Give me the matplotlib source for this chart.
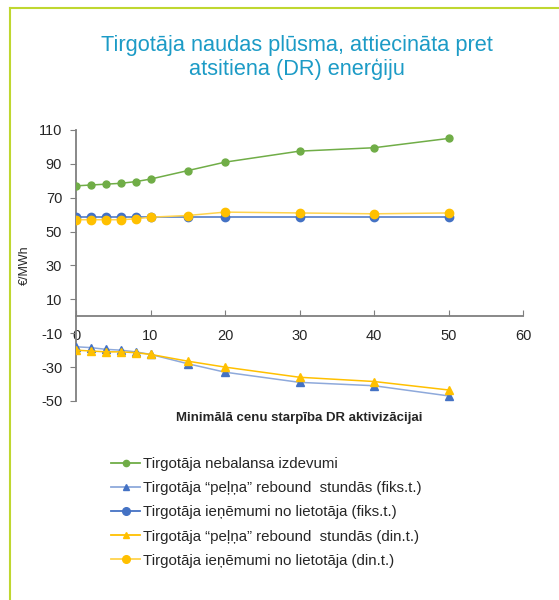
import matplotlib.pyplot as plt
from matplotlib.lines import Line2D

plt.rcParams['font.family'] = ['Liberation Sans', 'DejaVu Sans']
plt.rcParams['axes.unicode_minus'] = False

# minimal price spread for DR activation
spread = [0, 2, 4, 6, 8, 10, 15, 20, 30, 40, 50]

imbalance_cost = [77, 77.5, 78, 78.5, 79.5, 81, 86, 91, 97.5, 99.5, 105]
rebound_fix = [-18, -18.5, -19.5, -20, -21, -22.5, -28, -33, -39, -41, -47]
revenue_fix = [58.5, 58.5, 58.5, 58.5, 58.5, 58.5, 58.5, 58.5, 58.5, 58.5, 58.5]
rebound_dyn = [-20, -20.5, -21, -21, -21.5, -22.5, -26.5, -30, -36, -38.5, -43.5]
revenue_dyn = [57, 57, 57, 57, 57.5, 58.5, 59.5, 61.5, 61, 60.5, 61]

labels = [
    'Tirgotāja nebalansa izdevumi',
    'Tirgotāja “peļņa” rebound  stundās (fiks.t.)',
    'Tirgotāja ieņēmumi no lietotāja (fiks.t.)',
    'Tirgotāja “peļņa” rebound  stundās (din.t.)',
    'Tirgotāja ieņēmumi no lietotāja (din.t.)',
]
yticks = [-50, -30, -10, 10, 30, 50, 70, 90, 110]
xticks = [0, 10, 20, 30, 40, 50, 60]

green = '#70AD47'
blue = '#4472C4'
blue_light = '#8EA9DB'
yellow = '#FFC000'
yellow_light = '#FFD34D'

fig = plt.figure(figsize=(5.59, 6.0), dpi=100)
ax = fig.add_axes([0.136, 0.3317, 0.7996, 0.4517])

series = [
    (imbalance_cost, green, green, 'o', 5),
    (rebound_fix, blue_light, blue, '^', 5.5),
    (revenue_fix, blue, blue, 'o', 6),
    (rebound_dyn, yellow, yellow, '^', 5.5),
    (revenue_dyn, yellow_light, yellow, 'o', 6),
]
handles = []
for (vals, lc, mc, mk, ms), lab in zip(series, labels):
    ax.plot(spread, vals, color=lc, lw=1.1, marker=mk, ms=ms,
            mfc=mc, mec=mc, zorder=3)
    handles.append(Line2D([], [], color=lc, lw=1.3, marker=mk, ms=ms - 0.5,
                          mfc=mc, mec=mc))

ax.set_xlim(0, 60)
ax.set_ylim(-50, 110)
ax.set_xticks(xticks)
ax.set_yticks(yticks)
ax.spines['top'].set_visible(False)
ax.spines['right'].set_visible(False)
ax.spines['bottom'].set_position(('data', 0))
for s in ('left', 'bottom'):
    ax.spines[s].set_color('#7F7F7F')
    ax.spines[s].set_linewidth(1.3)
ax.tick_params(axis='x', direction='in', length=4, color='#7F7F7F',
               labelsize=10.5, pad=9, labelcolor='#262626')
ax.tick_params(axis='y', direction='out', length=4, color='#7F7F7F',
               labelsize=10.5, pad=6, labelcolor='#262626')

ax.set_ylabel('€/MWh', fontsize=9, color='#262626', labelpad=6)
fig.text(0.536, 0.303, 'Minimālā cenu starpība DR aktivizācijai',
         ha='center', va='center', fontsize=9.5, fontweight='bold',
         color='#262626')

fig.text(0.532, 0.904, 'Tirgotāja naudas plūsma, attiecināta pret\natsitiena (DR) enerģiju',
         ha='center', va='center', fontsize=15.7, color='#1C9BC6',
         linespacing=1.2)

fig.legend(handles, labels, loc='upper left', bbox_to_anchor=(0.186, 0.251),
           frameon=False, fontsize=10.8, handlelength=1.9, handletextpad=0.2,
           labelspacing=0.68, borderpad=0, labelcolor='#262626')

# outer frame lines
fig.add_artist(Line2D([10 / 559, 1], [1 - 8 / 600, 1 - 8 / 600],
                      color='#BFD730', lw=1.5, transform=fig.transFigure))
fig.add_artist(Line2D([10 / 559, 10 / 559], [0, 1 - 8 / 600],
                      color='#BFD730', lw=1.5, transform=fig.transFigure))

fig.savefig('out.png', dpi=100)
